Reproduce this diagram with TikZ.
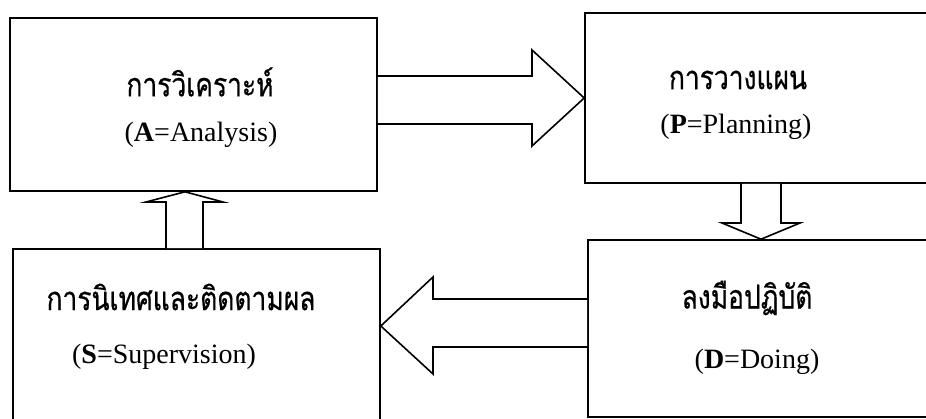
\documentclass[tikz,border=0pt]{standalone}
\usepackage{fontspec}
\setmainfont{Liberation Serif}
\newfontfamily\thaifont[Script=Thai, FakeStretch=0.8, FakeBold=0.5]{Loma}
\usetikzlibrary{calc}
\tikzset{
  box/.style={draw, line width=1.6pt, inner sep=0pt},
  blockarrow/.style={draw, line width=1.6pt, line join=miter, fill=white},
  thaitext/.style={font=\thaifont\fontsize{33}{36}\selectfont, inner sep=0pt},
  engtext/.style={font=\fontsize{28}{32}\selectfont, inner sep=0pt}
}
\begin{document}
\begin{tikzpicture}[x=1pt, y=-1pt, line cap=round]
		\clip (0,0) rectangle (926,419);
		% กล่องทั้งสี่
		\node[box, minimum width=367pt, minimum height=173pt] (A) at (193.5,104.5) {};
		\node[box, minimum width=355pt, minimum height=170pt] (P) at (762.5,98) {};
		\node[box, minimum width=352pt, minimum height=177pt] (D) at (764,328.5) {};
		\node[box, minimum width=367pt, minimum height=181pt] (S) at (196.5,339.5) {};
		
		% ข้อความในกล่อง
		\node[thaitext] (A1) at (200,82) {การวิเคราะห์};
		\node[engtext] (A2) at (201,135) {(\textbf{A}=Analysis)};
		\node[thaitext] (P1) at (738,80) {การวางแผน};
		\node[engtext] (P2) at (736,127) {(\textbf{P}=Planning)};
		\node[thaitext] (D1) at (747,298) {ลงมือปฏิบัติ};
		\node[engtext] (D2) at (757,362) {(\textbf{D}=Doing)};
		\node[thaitext] (S1) at (181,297) {การนิเทศและติดตามผล};
		\node[engtext] (S2) at (164,357) {(\textbf{S}=Supervision)};
		
		% ลูกศร A -> P
		\draw[blockarrow] (A.east |- 0,76) -- (532,76) -- (532,50) -- (P.west |- 0,98)
			-- (532,146) -- (532,124) -- (A.east |- 0,124);
		% ลูกศร P -> D
		\draw[blockarrow] (741,0 |- P.south) -- (741,223) -- (722,223) -- (761,0 |- D.north)
			-- (800,223) -- (781,223) -- (781,0 |- P.south);
		% ลูกศร D -> S
		\draw[blockarrow] (D.west |- 0,299) -- (433,299) -- (433,277) -- (S.east |- 0,326)
			-- (433,374) -- (433,347) -- (D.west |- 0,347);
		% ลูกศร S -> A
		\draw[blockarrow] (166,0 |- S.north) -- (166,202) -- (146,202) -- (185,0 |- A.south)
			-- (223,202) -- (203,202) -- (203,0 |- S.north);
\end{tikzpicture}
\end{document}
